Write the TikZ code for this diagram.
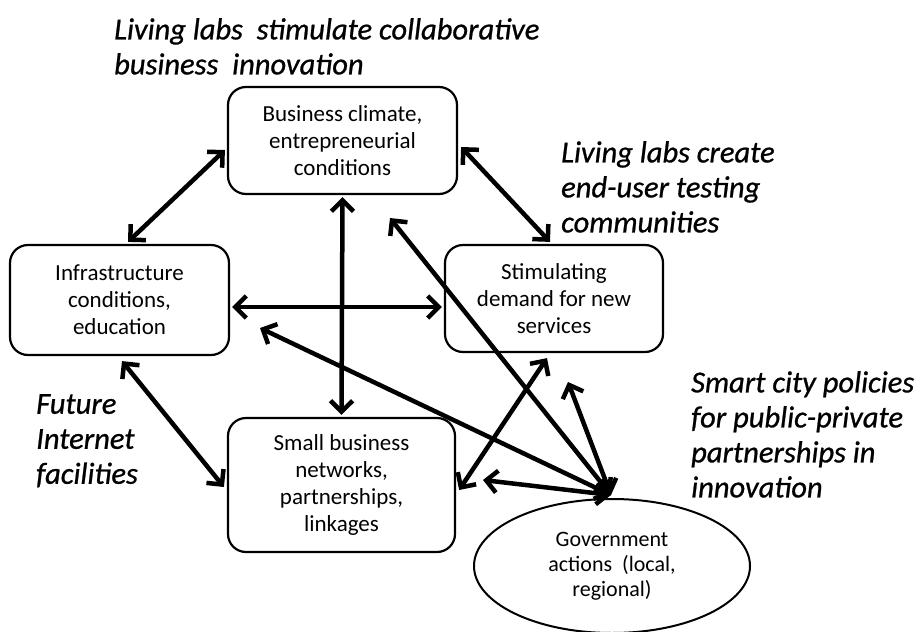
\documentclass[tikz,border=0pt]{standalone}
\usepackage{fontspec}
\setmainfont{Carlito}
\newfontfamily\notefont{Carlito}[FakeBold=0.8]
\usetikzlibrary{arrows.meta,shapes.geometric}
\begin{document}
\begin{tikzpicture}[x=1pt,y=-1pt,
  box/.style={draw, line width=2.2pt, rounded corners=18pt, align=center,
    font=\fontsize{23}{27}\selectfont, inner sep=0pt},
  arr/.style={line width=4.5pt,
    {Straight Barb[length=11pt,width=22pt]}-{Straight Barb[length=11pt,width=22pt]}},
  note/.style={font=\notefont\fontsize{30.5}{35}\selectfont\itshape, align=left,
    anchor=north west, inner sep=0pt}]
\useasboundingbox (0,0) rectangle (919,632);

% boxes
\node[box, minimum width=229pt, minimum height=107pt] (biz) at (342.5,140.5)
  {Business climate,\\entrepreneurial\\conditions};
\node[box, minimum width=219pt, minimum height=110pt] (infra) at (119.5,300)
  {Infrastructure\\conditions,\\education};
\node[box, minimum width=218pt, minimum height=107pt] (stim) at (554,298.5)
  {Stimulating\\demand for new\\services};
\node[box, minimum width=227pt, minimum height=134pt] (small) at (341.5,485)
  {Small business\\networks,\\partnerships,\\linkages};
\node[draw, ellipse, line width=2pt, minimum width=276pt, minimum height=134pt,
  inner sep=0pt, align=center, font=\fontsize{22}{25}\selectfont, fill=white] (gov) at (612,566)
  {Government\\actions\ \ (local,\\regional)};

% free ends
\coordinate (p1) at (390,218);
\coordinate (p2) at (260,328);
\coordinate (p3) at (568,382);
\coordinate (p4) at (483,480);
\coordinate (g) at (611,495);

% connectors
\draw[arr] ([xshift=-2pt,yshift=-9.5pt]biz.west) -- ([xshift=8.5pt,yshift=2pt]infra.north);
\draw[arr] ([xshift=3pt,yshift=-6.5pt]biz.east) -- ([xshift=-4pt,yshift=2pt]stim.north);
\draw[arr] ([yshift=-2pt]biz.south) -- ([yshift=2pt]small.north);
\draw[arr] ([xshift=2pt,yshift=-7pt]infra.east) -- ([xshift=-2pt,yshift=-8.5pt]stim.west);
\draw[arr] ([xshift=2.5pt,yshift=-5pt]infra.south) -- ([xshift=-3pt,yshift=-2pt]small.west);
\draw[arr] ([xshift=-7pt,yshift=-5pt]stim.south) -- ([xshift=3pt,yshift=-5pt]small.east);
\draw[arr] (g) -- (p1);
\draw[arr] (g) -- (p2);
\draw[arr] (g) -- (p3);
\draw[arr] (g) -- (p4);

% notes
\node[note] (n1) at (114,18) {Living labs\ \ stimulate collaborative\\business\ \ innovation};
\node[note] (n2) at (561,141) {Living labs create\\end-user testing\\communities};
\node[note] (n3) at (691,371) {Smart city policies\\for public-private\\partnerships in\\innovation};
\node[note] (n4) at (36,394) {Future\\Internet\\facilities};
\end{tikzpicture}
\end{document}
